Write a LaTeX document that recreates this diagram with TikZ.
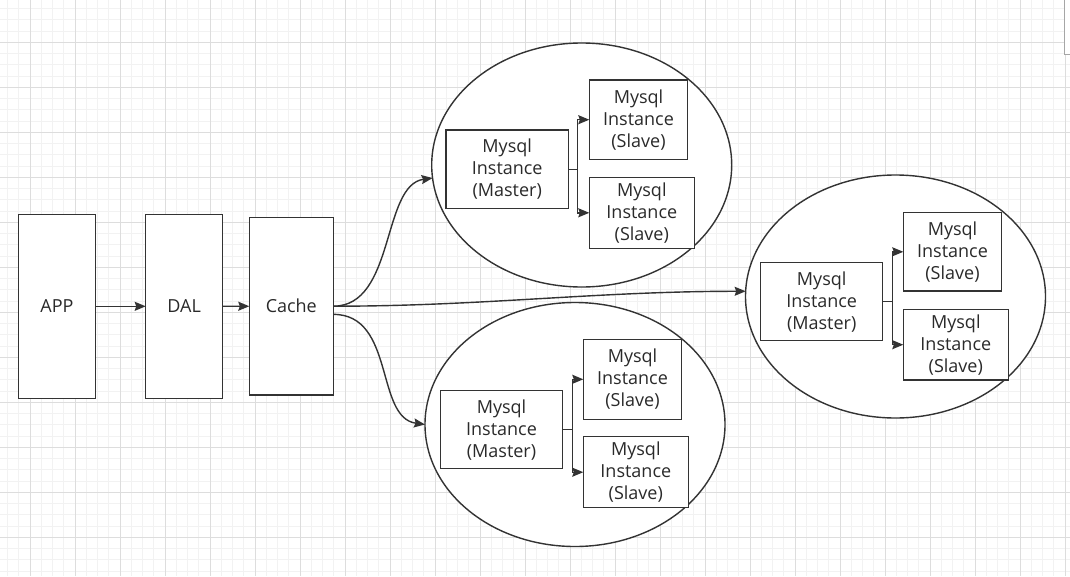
\documentclass[tikz,border=0pt]{standalone}
\usepackage{fontspec}
\setmainfont{Open Sans}
\usetikzlibrary{shapes.geometric,arrows.meta}
\definecolor{ln}{HTML}{333333}
\definecolor{txt}{HTML}{2A2A2A}
\definecolor{minorg}{HTML}{F2F2F2}
\definecolor{majorg}{HTML}{DDDDDD}
\begin{document}
\begin{tikzpicture}[x=1pt,y=-1pt,
  box/.style={draw=ln, line width=1.4pt, fill=white, inner sep=0pt, outer sep=0pt, align=center, font=\fontsize{18}{22}\selectfont, text=txt},
  cluster/.style={ellipse, draw=ln, line width=1.4pt, fill=white, inner sep=0pt, outer sep=0pt},
  arr/.style={draw=ln, line width=1.4pt, -{Stealth[length=11pt,width=9pt,inset=1.5pt]}},
  link/.style={draw=ln, line width=1.4pt}]
\useasboundingbox (0,0) rectangle (1070,576);
\fill[white] (0,0) rectangle (1070,576);
% grid
\foreach \i in {0,...,94} \draw[minorg, line width=0.7pt] ({7.5+11.25*\i},0) -- ({7.5+11.25*\i},576);
\foreach \i in {0,...,50} \draw[minorg, line width=0.7pt] (0,{8.55+11.25*\i}) -- (1070,{8.55+11.25*\i});
\foreach \i in {0,...,23} \draw[majorg, line width=0.8pt] ({30+45*\i},0) -- ({30+45*\i},576);
\foreach \i in {0,...,11} \draw[majorg, line width=0.8pt] (0,{42.3+45*\i}) -- (1070,{42.3+45*\i});
% panel edge top right
\draw[draw=black!35, fill=white, line width=0.8pt] (1064,-2) rectangle (1073,54);

% clusters
\node[cluster, minimum width=300pt, minimum height=244pt] (e1) at (581.7,165) {};
\node[cluster, minimum width=300pt, minimum height=243pt] (e2) at (895.5,296.5) {};
\node[cluster, minimum width=300pt, minimum height=244pt] (e3) at (575,424.5) {};

% main boxes
\node[box, minimum width=77.4pt, minimum height=184pt] (app) at (57,306.3) {APP};
\node[box, minimum width=77pt, minimum height=184pt] (dal) at (184.2,306.3) {DAL};
\node[box, minimum width=84pt, minimum height=177.7pt] (cache) at (291.3,306.2) {Cache};

% cluster 1
\node[box, minimum width=122.3pt, minimum height=78.7pt] (m1) at (507.2,169.4) {Mysql\\Instance\\(Master)};
\node[box, minimum width=98.4pt, minimum height=79.3pt] (s1a) at (638.5,119.7) {Mysql\\Instance\\(Slave)};
\node[box, minimum width=105pt, minimum height=71pt] (s1b) at (641.8,212.8) {Mysql\\Instance\\(Slave)};
% cluster 2
\node[box, minimum width=122pt, minimum height=78pt] (m2) at (821.7,301.7) {Mysql\\Instance\\(Master)};
\node[box, minimum width=98.4pt, minimum height=78.3pt] (s2a) at (952.5,251.8) {Mysql\\Instance\\(Slave)};
\node[box, minimum width=105pt, minimum height=70.7pt] (s2b) at (955.8,344.7) {Mysql\\Instance\\(Slave)};
% cluster 3
\node[box, minimum width=121.6pt, minimum height=78pt] (m3) at (501.5,429.7) {Mysql\\Instance\\(Master)};
\node[box, minimum width=98.4pt, minimum height=80pt] (s3a) at (632.5,379.3) {Mysql\\Instance\\(Slave)};
\node[box, minimum width=105pt, minimum height=71pt] (s3b) at (635.8,472.2) {Mysql\\Instance\\(Slave)};

% junctions
\coordinate (j1) at (577.7,169.4);
\coordinate (j2) at (892.7,301.7);
\coordinate (j3) at (572.3,429.7);

% connectors
\draw[arr] (app) -- (dal);
\draw[arr] (dal) -- (cache);

\draw[arr] (cache.east) .. controls +(62,0) and +(-51,7) .. (e1.185);
\draw[arr] (cache.east) .. controls +(150,0) and +(-150,0) .. (e2.178);
\draw[arr] (cache.-11) .. controls +(62,0) and +(-50,-7) .. (e3.west);

\draw[link] (m1.east) -- (j1);
\draw[arr] (j1) |- (s1a.west);
\draw[arr] (j1) |- (s1b.west);
\draw[link] (m2.east) -- (j2);
\draw[arr] (j2) |- (s2a.west);
\draw[arr] (j2) |- (s2b.west);
\draw[link] (m3.east) -- (j3);
\draw[arr] (j3) |- (s3a.west);
\draw[arr] (j3) |- (s3b.west);
\end{tikzpicture}
\end{document}
